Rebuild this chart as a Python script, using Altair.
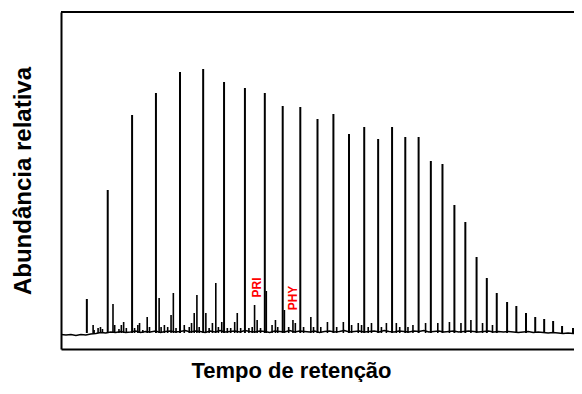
import altair as alt
import pandas as pd

# n-alkane peaks: retention (arbitrary units) and relative abundance (arbitrary units)
alkane_rt = [26, 47, 71.5, 95.5, 119.7, 143, 164, 185, 205, 223, 240.7, 258, 274, 289.7, 305,
             319, 333, 346.3, 359.7, 372, 383.7, 395.7, 406.7, 418, 428.3, 438.3, 448.7, 458,
             467.7, 477, 486, 495, 504, 515]
alkane_ab = [50, 159, 234, 256, 277, 280, 267, 261, 256, 243, 242, 230, 235, 215, 222,
             210, 222, 212, 212, 188, 185, 144, 127, 92, 71, 56, 47, 43,
             36, 32, 30, 28, 23, 21]

# minor peaks
minor_rt = [32.3, 33.3, 37.3, 39.7, 41.7, 52.3, 54, 58.3, 60.7, 63, 65.7, 74, 77.3, 79, 82.3,
            86.7, 89, 98.7, 100.7, 104, 107.3, 110.7, 113, 115.7, 124, 129, 131.3, 134, 136.7,
            139, 145.7, 149, 152.3, 155.7, 158.3, 161.7, 167.3, 170.7, 174.7, 177.3, 180.7, 189,
            192.3, 194.7, 197.3, 200.7, 206.5, 212.3, 215.7, 218, 224.7, 229, 233.3, 235.7, 244,
            251.3, 254, 261.3, 268, 277.3, 284, 292.3, 299, 302.3, 309, 312.3, 322.3, 327.3,
            337.3, 340.7, 349, 354, 366.7, 379, 390.7, 402.3, 412.3, 424, 434, 519]
minor_ab = [24, 19, 21, 22, 20, 45, 24, 20, 24, 27, 21, 21, 24, 26, 19,
            32, 22, 51, 22, 24, 22, 34, 56, 21, 24, 22, 26, 36, 54,
            22, 36, 21, 26, 66, 22, 27, 21, 21, 27, 36, 21, 21,
            22, 44, 29, 21, 58, 24, 29, 22, 39, 22, 29, 26, 22,
            32, 22, 22, 27, 22, 27, 24, 26, 24, 22, 26, 22, 26,
            26, 22, 22, 24, 26, 26, 27, 26, 29, 26, 24, 21]

# baseline trace
base_rt = [0, 5, 10, 15, 20, 25, 30, 35, 40, 45, 50, 55, 60, 65, 70, 75, 80, 85, 90, 95,
           100, 105, 110, 115, 120, 125, 130, 135, 140, 145, 150, 155, 160, 165, 170, 175,
           180, 185, 190, 195, 200, 205, 210, 215, 220, 225, 230, 235, 240, 245, 250, 255,
           260, 265, 270, 275, 280, 285, 290, 295, 300, 305, 310, 315, 320, 325, 330, 335,
           340, 345, 350, 355, 360, 365, 370, 375, 380, 385, 390, 395, 400, 405, 410, 415,
           420, 425, 430, 435, 440, 445, 450, 455, 460, 465, 470, 475, 480, 485, 490, 495,
           500, 505, 510, 515, 519]
base_ab = [14.5, 14, 14.5, 13.5, 14.5, 14, 15, 15.5, 16.5, 16,
           17, 16.5, 17.5, 16.5, 17, 18, 16.5, 17.5, 17, 18,
           16.5, 17.5, 18, 17, 17.5, 18.5, 17, 18, 17.5, 16.5,
           18, 17, 18.5, 17, 17.5, 18, 17, 18.5, 17.5, 17,
           18, 17.5, 16.5, 18, 17.5, 17, 18.5, 17, 18, 17.5,
           17, 18, 16.5, 17.5, 18, 17, 17.5, 18.5, 17, 17.5,
           18, 17, 17.5, 18, 17, 18.5, 17.5, 17, 18, 17.5,
           17, 18, 17.5, 18.5, 17, 17.5, 18, 17, 17.5, 18,
           17, 17.5, 18, 17.5, 17, 17.5, 18, 17, 17.5, 17,
           17.5, 17, 16.5, 17, 17.5, 16.5, 17, 16.5, 16, 16.5,
           16, 15.5, 16, 15.5, 15.5]

label_names = ["PRI", "PHY"]
label_rt = [197.5, 233.5]
label_ab = [61.5, 51]

W, H = 513, 337
BASE = 16
FONT = "Liberation Sans"

xs = alt.Scale(domain=[0, 516], nice=False, zero=False)
ys = alt.Scale(domain=[0, H], nice=False, zero=False)

X = alt.X("rt:Q", scale=xs, axis=alt.Axis(
    title="Tempo de retenção", labels=False, ticks=False, grid=False,
    domain=True, domainColor="black", domainWidth=2,
    titleFont=FONT, titleFontSize=22, titleFontWeight="bold", titleColor="black",
    titleX=230, titleY=28, titleBaseline="alphabetic", titleAlign="center"))
Y = alt.Y("ab:Q", scale=ys, axis=alt.Axis(
    title="Abundância relativa", labels=False, ticks=False, grid=False,
    domain=True, domainColor="black", domainWidth=2,
    titleFont=FONT, titleFontSize=24, titleFontWeight="bold", titleColor="black",
    titleX=-38, titleY=168.5, titleAngle=270, titleBaseline="middle", titleAlign="center"))

peaks_df = pd.DataFrame({"rt": alkane_rt, "ab": alkane_ab})
minor_df = pd.DataFrame({"rt": minor_rt, "ab": minor_ab})
base_df = pd.DataFrame({"rt": base_rt, "ab": base_ab})
lab_df = pd.DataFrame({"name": label_names, "rt": label_rt, "ab": label_ab})
frame_df = pd.DataFrame({"k": [0]})

baseline = alt.Chart(base_df).mark_line(color="black", strokeWidth=1.4, clip=True).encode(x=X, y=Y)
major = alt.Chart(peaks_df).mark_rule(color="black", strokeWidth=2, clip=True).encode(
    x=X, y=Y, y2=alt.datum(BASE))
minor = alt.Chart(minor_df).mark_rule(color="black", strokeWidth=1.6, clip=True).encode(
    x=X, y=Y, y2=alt.datum(BASE))
labels = alt.Chart(lab_df).mark_text(
    angle=270, color="#ff0000", fontWeight="bold", fontSize=12, font=FONT,
    align="center", baseline="middle").encode(x=X, y=Y, text="name:N")
top = alt.Chart(frame_df).mark_rule(color="black", strokeWidth=2).encode(
    x=alt.value(0), x2=alt.value(W), y=alt.value(0))

chart = alt.layer(baseline, minor, major, labels, top).properties(
    width=W, height=H,
    autosize=alt.AutoSizeParams(type="none"),
    padding={"left": 53, "top": 4, "right": 0, "bottom": 33},
).configure_view(stroke=None)

chart.save("out.html", embed_options={"renderer": "svg", "actions": False})
